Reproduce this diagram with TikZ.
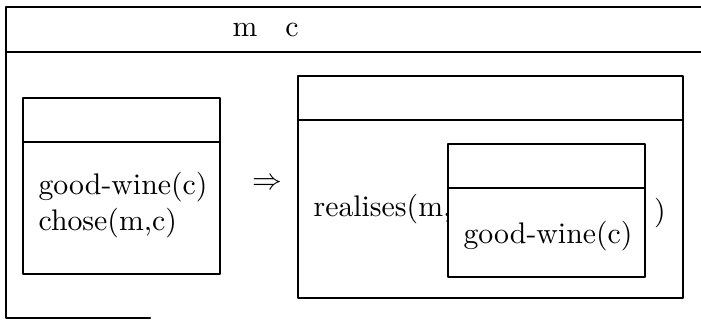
\documentclass[tikz,border=0pt]{standalone}
\usetikzlibrary{positioning}
\tikzset{caja/.style={line width=0.7pt}, cond/.style={inner sep=0pt, anchor=base west}}
% caja DRS: universo arriba, condiciones abajo
\newcommand{\drscaja}[4]{%
  \draw[caja] (#1,#2) rectangle (#3,#4);
  \draw[caja] (#1,#2+44) -- (#3,#2+44);}

\begin{document}
\begin{tikzpicture}[x=0.0118cm, y=-0.0118cm, line cap=round, line join=round]
  \useasboundingbox (0,0) rectangle (701,321);

  % Caja exterior (cortada a la derecha)
  \draw[caja] (701,7) -- (6,7) -- (6,318) -- (150,318);
  \draw[caja] (6,52) -- (701,52);
  \node (m) at (245,30) {m};
  \node (c) at (292,30) {c};

  % Antecedente
  \drscaja{23}{98}{220}{274}
  \node[cond] (bueno) at (38,195) {good-wine(c)};
  \node[cond] (eligio) at (38,231) {chose(m,c)};

  % Implicación
  \node (impl) at (267,184) {$\Rightarrow$};

  % Consecuente
  \drscaja{298}{76}{683}{298}
  \node[cond] (realiza) at (313,217) {realises(m,};
  \drscaja{448}{144}{645}{277}
  \node[cond] (bueno2) at (463,244) {good-wine(c)};
  \node (cierre) at (660,213) {)};
\end{tikzpicture}
\end{document}
